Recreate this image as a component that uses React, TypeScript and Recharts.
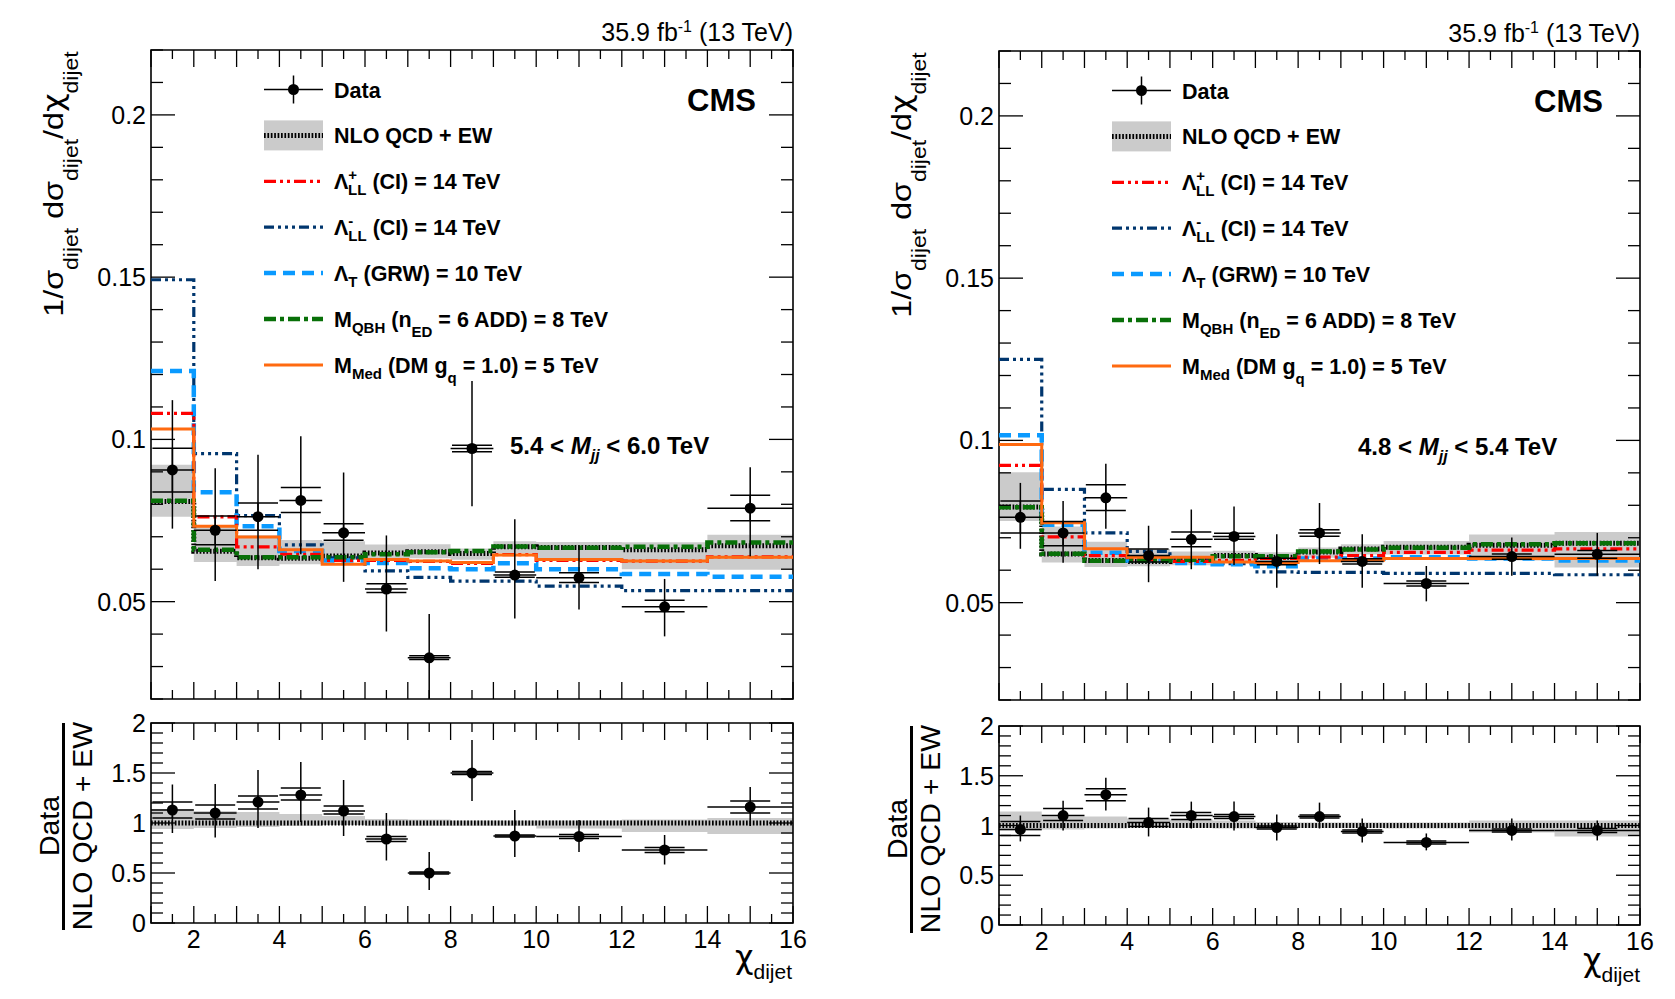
import React from "react";
import { ComposedChart, Line, Area, Scatter, ErrorBar, XAxis, YAxis, ReferenceArea } from "recharts";

const FONT = "'Liberation Sans', Arial, Helvetica, sans-serif";
const GREEK = "'DejaVu Sans', 'Liberation Sans', sans-serif";

// chi_dijet binning
const binEdges = [1, 2, 3, 4, 5, 6, 7, 8, 9, 10, 12, 14, 16];
const binCenters = [1.5, 2.5, 3.5, 4.5, 5.5, 6.5, 7.5, 8.5, 9.5, 11, 13, 15];
const binHalfWidths = [0.5, 0.5, 0.5, 0.5, 0.5, 0.5, 0.5, 0.5, 0.5, 1, 1, 1];

const xTicks = [1, 1.5, 2, 2.5, 3, 3.5, 4, 4.5, 5, 5.5, 6, 6.5, 7, 7.5, 8, 8.5, 9, 9.5, 10, 10.5, 11, 11.5, 12, 12.5, 13, 13.5, 14, 14.5, 15, 15.5, 16];
const xTickLabels = [2, 4, 6, 8, 10, 12, 14, 16];
const mainYTicks = [0.02, 0.03, 0.04, 0.05, 0.06, 0.07, 0.08, 0.09, 0.1, 0.11, 0.12, 0.13, 0.14, 0.15, 0.16, 0.17, 0.18, 0.19, 0.2, 0.21, 0.22];
const mainYLabels = [0.05, 0.1, 0.15, 0.2];
const ratioYTicks = [0, 0.1, 0.2, 0.3, 0.4, 0.5, 0.6, 0.7, 0.8, 0.9, 1, 1.1, 1.2, 1.3, 1.4, 1.5, 1.6, 1.7, 1.8, 1.9, 2];
const ratioYLabels = [0, 0.5, 1, 1.5, 2];
const ratioQcd = [1, 1, 1, 1, 1, 1, 1, 1, 1, 1, 1, 1];

// 5.4 < Mjj < 6.0 TeV
const hiQcd = [0.0809, 0.0655, 0.0635, 0.0634, 0.0641, 0.065, 0.0654, 0.0648, 0.0669, 0.0667, 0.066, 0.0672];
const hiBandLo = [0.0762, 0.0622, 0.061, 0.0615, 0.0628, 0.063, 0.0634, 0.0629, 0.0649, 0.063, 0.06, 0.0598];
const hiBandHi = [0.0922, 0.0734, 0.0705, 0.069, 0.0686, 0.0676, 0.0677, 0.0664, 0.0686, 0.0684, 0.0683, 0.0706];
const hiLLPlus = [0.108, 0.0761, 0.0669, 0.0646, 0.0627, 0.0627, 0.0624, 0.0618, 0.0645, 0.0627, 0.0625, 0.0638];
const hiLLMinus = [0.1492, 0.0956, 0.0765, 0.0675, 0.0635, 0.0595, 0.0575, 0.0563, 0.0563, 0.0548, 0.0534, 0.0534];
const hiLambdaT = [0.1211, 0.0837, 0.0732, 0.0656, 0.0627, 0.0619, 0.0603, 0.06, 0.0618, 0.06, 0.0585, 0.0577];
const hiQbh = [0.0811, 0.066, 0.0637, 0.0637, 0.0637, 0.0646, 0.0652, 0.0656, 0.067, 0.0666, 0.0669, 0.0682];
const hiMed = [0.1032, 0.0732, 0.0699, 0.066, 0.0615, 0.063, 0.0625, 0.0621, 0.0644, 0.063, 0.0625, 0.0637];
const hiData = [0.0906, 0.072, 0.0762, 0.0812, 0.0712, 0.0539, 0.0327, 0.0972, 0.0582, 0.0574, 0.0484, 0.0788];
const hiTotLo = [0.0725, 0.0564, 0.06, 0.0646, 0.0561, 0.0408, 0.02, 0.0794, 0.0448, 0.0476, 0.0393, 0.064];
const hiTotHi = [0.1121, 0.0911, 0.0953, 0.101, 0.0898, 0.0704, 0.0462, 0.118, 0.0754, 0.0673, 0.057, 0.0914];
const hiStatLo = [0.0838, 0.0675, 0.072, 0.0775, 0.0689, 0.0528, 0.0322, 0.0962, 0.0575, 0.0559, 0.0469, 0.0749];
const hiStatHi = [0.0973, 0.0764, 0.0804, 0.0852, 0.074, 0.0555, 0.0333, 0.0982, 0.0591, 0.0589, 0.0504, 0.0828];
const hiRatio = [1.13, 1.1, 1.21, 1.28, 1.12, 0.84, 0.5, 1.5, 0.87, 0.865, 0.73, 1.16];
const hiRTotLo = [0.9, 0.855, 0.95, 1.01, 0.87, 0.625, 0.33, 1.22, 0.66, 0.71, 0.585, 0.97];
const hiRTotHi = [1.385, 1.39, 1.53, 1.61, 1.43, 1.1, 0.71, 1.83, 1.13, 1.03, 0.88, 1.36];
const hiRStatLo = [1.05, 1.04, 1.14, 1.23, 1.09, 0.815, 0.49, 1.485, 0.86, 0.845, 0.705, 1.1];
const hiRStatHi = [1.21, 1.18, 1.27, 1.35, 1.17, 0.865, 0.51, 1.515, 0.88, 0.885, 0.755, 1.22];
const hiRBandLo = [0.94, 0.95, 0.96, 0.97, 0.98, 0.97, 0.97, 0.97, 0.97, 0.945, 0.91, 0.89];
const hiRBandHi = [1.14, 1.12, 1.11, 1.09, 1.07, 1.04, 1.035, 1.025, 1.025, 1.025, 1.035, 1.05];

// 4.8 < Mjj < 5.4 TeV
const loQcd = [0.0795, 0.065, 0.063, 0.0627, 0.0632, 0.0645, 0.064, 0.0656, 0.0665, 0.0671, 0.0677, 0.0683];
const loBandLo = [0.0752, 0.0624, 0.061, 0.0612, 0.0615, 0.0622, 0.0625, 0.0638, 0.0648, 0.0648, 0.063, 0.0608];
const loBandHi = [0.0902, 0.0735, 0.0688, 0.0665, 0.0658, 0.066, 0.0655, 0.067, 0.068, 0.069, 0.071, 0.0718];
const loLLPlus = [0.0923, 0.0703, 0.0645, 0.0632, 0.0627, 0.063, 0.0636, 0.064, 0.0645, 0.0655, 0.0662, 0.0666];
const loLLMinus = [0.125, 0.0849, 0.0715, 0.0658, 0.0636, 0.062, 0.0595, 0.0593, 0.0593, 0.059, 0.059, 0.0586];
const loLambdaT = [0.1016, 0.074, 0.0654, 0.063, 0.0622, 0.0618, 0.0612, 0.0636, 0.0636, 0.064, 0.0636, 0.063];
const loQbh = [0.0794, 0.0651, 0.0629, 0.063, 0.0632, 0.0643, 0.0643, 0.0658, 0.0664, 0.0669, 0.068, 0.0683];
const loMed = [0.0987, 0.0746, 0.0666, 0.064, 0.064, 0.0625, 0.0624, 0.0629, 0.0631, 0.0636, 0.0636, 0.0636];
const loData = [0.0763, 0.0715, 0.0823, 0.0645, 0.0695, 0.0704, 0.0627, 0.0715, 0.0627, 0.0559, 0.0642, 0.0649];
const loTotLo = [0.0666, 0.0623, 0.0728, 0.0563, 0.0603, 0.0616, 0.0546, 0.0619, 0.0546, 0.0504, 0.0583, 0.0583];
const loTotHi = [0.0869, 0.0813, 0.0928, 0.0737, 0.0787, 0.0796, 0.0711, 0.0807, 0.0711, 0.0613, 0.0701, 0.0715];
const loStatLo = [0.0715, 0.0675, 0.0784, 0.0625, 0.0672, 0.0695, 0.0617, 0.0705, 0.0619, 0.0551, 0.0634, 0.0637];
const loStatHi = [0.0813, 0.075, 0.0863, 0.0665, 0.0718, 0.0714, 0.0637, 0.0725, 0.0635, 0.0567, 0.065, 0.0661];
const loRatio = [0.96, 1.1, 1.31, 1.03, 1.1, 1.09, 0.98, 1.09, 0.94, 0.83, 0.95, 0.95];
const loRTotLo = [0.84, 0.95, 1.15, 0.89, 0.97, 0.95, 0.85, 0.97, 0.83, 0.75, 0.85, 0.85];
const loRTotHi = [1.1, 1.25, 1.48, 1.18, 1.24, 1.24, 1.11, 1.23, 1.07, 0.92, 1.07, 1.05];
const loRStatLo = [0.9, 1.05, 1.25, 0.99, 1.06, 1.07, 0.965, 1.075, 0.925, 0.815, 0.935, 0.93];
const loRStatHi = [1.04, 1.17, 1.37, 1.07, 1.13, 1.11, 0.995, 1.105, 0.955, 0.845, 0.965, 0.97];
const loRBandLo = [0.95, 0.96, 0.97, 0.98, 0.975, 0.97, 0.975, 0.975, 0.975, 0.97, 0.93, 0.89];
const loRBandHi = [1.14, 1.09, 1.09, 1.07, 1.06, 1.05, 1.035, 1.03, 1.03, 1.03, 1.05, 1.05];

const YW = 110;
const MT = 14;
const MR = 22;

const C_BAND = "#cbcbcb";
const C_RED = "#ff0000";
const C_NAVY = "#00366e";
const C_BLUE = "#0a9aff";
const C_GREEN = "#087008";
const C_ORANGE = "#ff6a10";

// histogram rows at bin edges (last edge repeats the last bin)
const stepRows = (series: Record<string, number[]>, lo: number[], hi: number[]) =>
  binEdges.map((x, i) => {
    const k = Math.min(i, binCenters.length - 1);
    const row: any = { x, band: [lo[k], hi[k]] };
    Object.keys(series).forEach((key) => (row[key] = series[key][k]));
    return row;
  });

const pointRows = (v: number[], tLo: number[], tHi: number[], sLo: number[], sHi: number[]) =>
  binCenters.map((x, i) => ({
    x,
    y: v[i],
    ex: binHalfWidths[i],
    eTot: [v[i] - tLo[i], tHi[i] - v[i]],
    eStat: [v[i] - sLo[i], sHi[i] - v[i]],
  }));

const dot = (p: any) => <circle cx={p.cx} cy={p.cy} r={5.5} fill="#000" />;

function Plot(props: {
  left: number; top: number; w: number; h: number; xh: number;
  yDomain: [number, number]; yTicks: number[]; yLabels: number[];
  showXLabels: boolean; rows: any[]; points: any[]; ratio: boolean;
}) {
  const { left, top, w, h, xh, yDomain, yTicks, yLabels, showXLabels, rows, points, ratio } = props;
  const width = YW + w + MR;
  const height = MT + h + xh;
  const pL = YW, pR = YW + w, pT = MT, pB = MT + h;

  const xTick = (p: any) => {
    const v = p.payload.value;
    const len = Number.isInteger(v) ? 17 : 9;
    return (
      <g>
        <line x1={p.x} x2={p.x} y1={pB} y2={pB - len} stroke="#000" strokeWidth={1.3} />
        <line x1={p.x} x2={p.x} y1={pT} y2={pT + len} stroke="#000" strokeWidth={1.3} />
        {showXLabels && xTickLabels.includes(v) && (
          <text x={p.x} y={pB + 25} textAnchor="middle" fontSize={25} fontFamily={FONT} fill="#000">{v}</text>
        )}
      </g>
    );
  };
  const yTick = (p: any) => {
    const v = p.payload.value;
    const major = yLabels.includes(v);
    const len = major ? 24 : 12;
    return (
      <g>
        <line x1={pL} x2={pL + len} y1={p.y} y2={p.y} stroke="#000" strokeWidth={1.3} />
        <line x1={pR} x2={pR - len} y1={p.y} y2={p.y} stroke="#000" strokeWidth={1.3} />
        {major && (
          <text x={pL - 5} y={p.y + 9} textAnchor="end" fontSize={25} fontFamily={FONT} fill="#000">{v}</text>
        )}
      </g>
    );
  };

  return (
    <div style={{ position: "absolute", left: left - YW, top: top - MT, width, height }}>
      <ComposedChart width={width} height={height} data={rows} margin={{ top: MT, right: MR, bottom: 0, left: 0 }}>
        <XAxis dataKey="x" type="number" domain={[1, 16]} ticks={xTicks} interval={0} allowDataOverflow
          height={xh} axisLine={false} tickLine={false} tick={xTick} />
        <YAxis type="number" domain={yDomain} ticks={yTicks} interval={0} allowDataOverflow
          width={YW} axisLine={false} tickLine={false} tick={yTick} />
        <Area dataKey="band" type="stepAfter" stroke="none" fill={C_BAND} fillOpacity={1} isAnimationActive={false} />
        <Line dataKey="qcd" type="stepAfter" stroke="#000" strokeWidth={5} strokeDasharray="1.7 1.7" dot={false} activeDot={false} isAnimationActive={false} />
        {!ratio && (
          <>
            <Line dataKey="llMinus" type="stepAfter" stroke={C_NAVY} strokeWidth={3.2} strokeDasharray="10 4 3 4 3 4 3 4" dot={false} activeDot={false} isAnimationActive={false} />
            <Line dataKey="lambdaT" type="stepAfter" stroke={C_BLUE} strokeWidth={4.5} strokeDasharray="12 7" dot={false} activeDot={false} isAnimationActive={false} />
            <Line dataKey="llPlus" type="stepAfter" stroke={C_RED} strokeWidth={3.2} strokeDasharray="12 4 3 4 3 4" dot={false} activeDot={false} isAnimationActive={false} />
            <Line dataKey="qbh" type="stepAfter" stroke={C_GREEN} strokeWidth={4.5} strokeDasharray="12 4 4 4" dot={false} activeDot={false} isAnimationActive={false} />
            <Line dataKey="med" type="stepAfter" stroke={C_ORANGE} strokeWidth={3} dot={false} activeDot={false} isAnimationActive={false} />
          </>
        )}
        <Scatter data={points} dataKey="y" shape={dot} isAnimationActive={false}>
          <ErrorBar dataKey="ex" direction="x" width={0} stroke="#000" strokeWidth={1.5} isAnimationActive={false} />
          <ErrorBar dataKey="eTot" direction="y" width={0} stroke="#000" strokeWidth={1.5} isAnimationActive={false} />
          <ErrorBar dataKey="eStat" direction="y" width={20} stroke="#000" strokeWidth={1.5} isAnimationActive={false} />
        </Scatter>
        <ReferenceArea x1={1} x2={16} y1={yDomain[0]} y2={yDomain[1]} fill="none" fillOpacity={0} stroke="#000" strokeWidth={1.6} ifOverflow="visible" />
      </ComposedChart>
    </div>
  );
}

function Overlay(props: { pl: number; pr: number; mt: number; rt: number; massLo: string; massHi: string }) {
  const { pl, pr, mt, rt, massLo, massHi } = props;
  const x0 = pl + 113, x1 = pl + 172, tx = pl + 183;
  const rowY = (i: number) => mt + 39.5 + i * 45.9;
  const sub = 15;
  const lines = [
    { c: C_RED, w: 3.2, d: "12 4 3 4 3 4" },
    { c: C_NAVY, w: 3.2, d: "10 4 3 4 3 4 3 4" },
    { c: C_BLUE, w: 4.5, d: "12 7" },
    { c: C_GREEN, w: 4.5, d: "12 4 4 4" },
    { c: C_ORANGE, w: 3, d: undefined as string | undefined },
  ];
  return (
    <svg width={1675} height={999} style={{ position: "absolute", left: 0, top: 0, pointerEvents: "none" }} fontFamily={FONT}>
      {/* lumi + CMS */}
      <text x={pr} y={mt - 9} textAnchor="end" fontSize={25} fill="#000">
        35.9 fb<tspan dy={-9} fontSize={16}>-1</tspan><tspan dy={9}> (13 TeV)</tspan>
      </text>
      <text x={pr - 37} y={mt + 61} textAnchor="end" fontSize={31} fontWeight="bold" fill="#000">CMS</text>

      {/* mass window */}
      <text x={pl + 359} y={mt + 404} fontSize={24} fontWeight="bold" fill="#000">
        {massLo + " < "}
        <tspan fontStyle="italic">M</tspan>
        <tspan fontStyle="italic" fontSize={16} dy={7}>jj</tspan>
        <tspan dy={-7}>{" < " + massHi + " TeV"}</tspan>
      </text>

      {/* legend */}
      <line x1={x0} x2={x1} y1={rowY(0)} y2={rowY(0)} stroke="#000" strokeWidth={1.5} />
      <line x1={(x0 + x1) / 2} x2={(x0 + x1) / 2} y1={rowY(0) - 14} y2={rowY(0) + 14} stroke="#000" strokeWidth={1.5} />
      <circle cx={(x0 + x1) / 2} cy={rowY(0)} r={5.5} fill="#000" />
      <rect x={x0} y={rowY(1) - 15} width={x1 - x0} height={30} fill={C_BAND} />
      <line x1={x0} x2={x1} y1={rowY(1)} y2={rowY(1)} stroke="#000" strokeWidth={5} strokeDasharray="1.7 1.7" />
      {lines.map((l, i) => (
        <line key={i} x1={x0} x2={x1} y1={rowY(i + 2)} y2={rowY(i + 2)} stroke={l.c} strokeWidth={l.w} strokeDasharray={l.d} />
      ))}
      <g fontSize={21.5} fontWeight="bold" fill="#000">
        <text x={tx} y={rowY(0) + 8}>Data</text>
        <text x={tx} y={rowY(1) + 8}>NLO QCD + EW</text>
        <text x={tx} y={rowY(2) + 8}>
          Λ<tspan fontSize={sub} dy={-9}>+</tspan><tspan fontSize={sub} dx={-9} dy={15}>LL</tspan><tspan dy={-6}> (CI) = 14 TeV</tspan>
        </text>
        <text x={tx} y={rowY(3) + 8}>
          Λ<tspan fontSize={sub} dy={-9}>-</tspan><tspan fontSize={sub} dx={-5} dy={15}>LL</tspan><tspan dy={-6}> (CI) = 14 TeV</tspan>
        </text>
        <text x={tx} y={rowY(4) + 8}>
          Λ<tspan fontSize={sub} dy={6}>T</tspan><tspan dy={-6}> (GRW) = 10 TeV</tspan>
        </text>
        <text x={tx} y={rowY(5) + 8}>
          M<tspan fontSize={sub} dy={6}>QBH</tspan><tspan dy={-6}> (n</tspan><tspan fontSize={sub} dy={10}>ED</tspan><tspan dy={-10}> = 6 ADD) = 8 TeV</tspan>
        </text>
        <text x={tx} y={rowY(6) + 8}>
          M<tspan fontSize={sub} dy={6}>Med</tspan><tspan dy={-6}> (DM g</tspan><tspan fontSize={sub} dy={10}>q</tspan><tspan dy={-10}> = 1.0) = 5 TeV</tspan>
        </text>
      </g>

      {/* y titles */}
      <text transform={`translate(${pl - 88}, ${mt + 134}) rotate(-90) scale(1.15, 1)`} textAnchor="middle" fontSize={28} fill="#000">
        1/σ<tspan fontSize={20} dy={15}>dijet</tspan><tspan dy={-15}> dσ</tspan><tspan fontSize={20} dy={15}>dijet</tspan>
        <tspan dy={-15}>/d</tspan><tspan fontFamily={GREEK}>χ</tspan><tspan fontSize={20} dy={15}>dijet</tspan>
      </text>
      <text transform={`translate(${pl - 92}, ${rt + 103}) rotate(-90)`} textAnchor="middle" fontSize={28.5} fill="#000">Data</text>
      <line x1={pl - 87.5} x2={pl - 87.5} y1={rt} y2={rt + 207} stroke="#000" strokeWidth={3} />
      <text transform={`translate(${pl - 59}, ${rt + 103}) rotate(-90)`} textAnchor="middle" fontSize={28.5} fill="#000">NLO QCD + EW</text>

      {/* x title */}
      <text x={pl + 584} y={rt + 245} fontSize={32} fill="#000">
        <tspan fontFamily={GREEK}>χ</tspan><tspan fontSize={21} dy={11}>dijet</tspan>
      </text>
    </svg>
  );
}

function Panel(props: {
  pl: number; w: number; mt: number; mh: number; rt: number; rh: number;
  qcd: number[]; bandLo: number[]; bandHi: number[]; llPlus: number[]; llMinus: number[];
  lambdaT: number[]; qbh: number[]; med: number[];
  data: number[]; totLo: number[]; totHi: number[]; statLo: number[]; statHi: number[];
  ratio: number[]; rTotLo: number[]; rTotHi: number[]; rStatLo: number[]; rStatHi: number[];
  rBandLo: number[]; rBandHi: number[]; massLo: string; massHi: string;
}) {
  const p = props;
  const mainRows = stepRows(
    { qcd: p.qcd, llPlus: p.llPlus, llMinus: p.llMinus, lambdaT: p.lambdaT, qbh: p.qbh, med: p.med },
    p.bandLo, p.bandHi
  );
  const mainPts = pointRows(p.data, p.totLo, p.totHi, p.statLo, p.statHi);
  const ratioRows = stepRows({ qcd: ratioQcd }, p.rBandLo, p.rBandHi);
  const ratioPts = pointRows(p.ratio, p.rTotLo, p.rTotHi, p.rStatLo, p.rStatHi);
  return (
    <>
      <Plot left={p.pl} top={p.mt} w={p.w} h={p.mh} xh={6} yDomain={[0.02, 0.22]} yTicks={mainYTicks}
        yLabels={mainYLabels} showXLabels={false} rows={mainRows} points={mainPts} ratio={false} />
      <Plot left={p.pl} top={p.rt} w={p.w} h={p.rh} xh={60} yDomain={[0, 2]} yTicks={ratioYTicks}
        yLabels={ratioYLabels} showXLabels={true} rows={ratioRows} points={ratioPts} ratio={true} />
      <Overlay pl={p.pl} pr={p.pl + p.w} mt={p.mt} rt={p.rt} massLo={p.massLo} massHi={p.massHi} />
    </>
  );
}

export default function App() {
  return (
    <div style={{ position: "absolute", left: 0, top: 0, width: 1675, height: 999, background: "#fff", fontFamily: FONT }}>
      <Panel pl={151} w={642} mt={50} mh={649} rt={723} rh={200}
        qcd={hiQcd} bandLo={hiBandLo} bandHi={hiBandHi} llPlus={hiLLPlus} llMinus={hiLLMinus}
        lambdaT={hiLambdaT} qbh={hiQbh} med={hiMed}
        data={hiData} totLo={hiTotLo} totHi={hiTotHi} statLo={hiStatLo} statHi={hiStatHi}
        ratio={hiRatio} rTotLo={hiRTotLo} rTotHi={hiRTotHi} rStatLo={hiRStatLo} rStatHi={hiRStatHi}
        rBandLo={hiRBandLo} rBandHi={hiRBandHi} massLo="5.4" massHi="6.0" />
      <Panel pl={999} w={641} mt={51} mh={649} rt={726} rh={199}
        qcd={loQcd} bandLo={loBandLo} bandHi={loBandHi} llPlus={loLLPlus} llMinus={loLLMinus}
        lambdaT={loLambdaT} qbh={loQbh} med={loMed}
        data={loData} totLo={loTotLo} totHi={loTotHi} statLo={loStatLo} statHi={loStatHi}
        ratio={loRatio} rTotLo={loRTotLo} rTotHi={loRTotHi} rStatLo={loRStatLo} rStatHi={loRStatHi}
        rBandLo={loRBandLo} rBandHi={loRBandHi} massLo="4.8" massHi="5.4" />
    </div>
  );
}
